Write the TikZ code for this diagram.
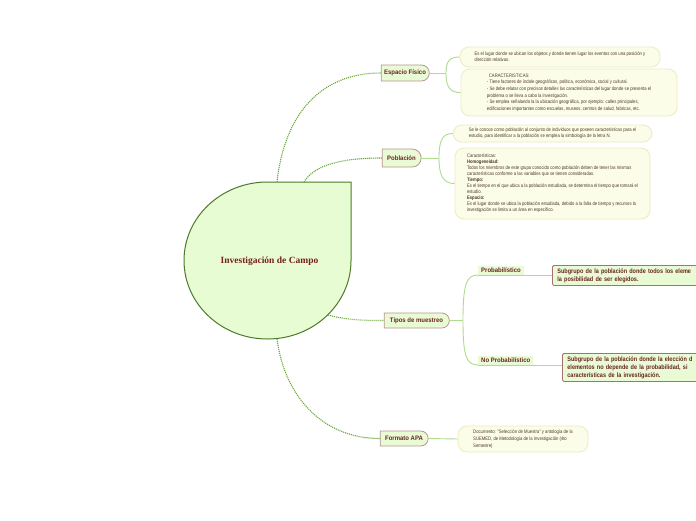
\documentclass[tikz,border=0pt]{standalone}
\usepackage{fontspec}
\setmainfont{Liberation Sans}
\newfontfamily\smallf[FakeStretch=0.84]{Liberation Sans}
\newfontfamily\labf[FakeStretch=0.92]{Liberation Sans}
\newfontfamily\deff[FakeStretch=0.85]{Liberation Sans}
\newfontfamily\titlef{Liberation Serif}
\usetikzlibrary{shapes.misc}
\definecolor{nodefill}{HTML}{E9FBD5}
\definecolor{centerfill}{HTML}{E8FCD3}
\definecolor{nodeborder}{HTML}{B89490}
\definecolor{labeltext}{HTML}{6B2424}
\definecolor{titletext}{HTML}{762020}
\definecolor{dotgreen}{HTML}{6AA83A}
\definecolor{brgreen}{HTML}{AEDB8E}
\definecolor{boxfill}{HTML}{FBFDE8}
\definecolor{boxborder}{HTML}{ECEBC3}
\definecolor{boxtext}{HTML}{4D3A28}
\definecolor{centerborder}{HTML}{4C7A2A}
\definecolor{subborder}{HTML}{A87070}
\begin{document}
\begin{tikzpicture}[x=1pt,y=-1pt,
  mainnode/.style={rounded rectangle, rounded rectangle west arc=none, draw=nodeborder, fill=nodefill, line width=0.8pt, text=labeltext, font=\labf\bfseries\fontsize{6.5}{7.5}\selectfont, inner xsep=4pt, inner ysep=2pt},
  infobox/.style={draw=boxborder, fill=boxfill, rounded corners=9pt, line width=0.8pt, text=boxtext, align=left, font=\smallf\fontsize{5}{6.3}\selectfont, inner sep=0pt},
  tagnode/.style={fill=nodefill, text=labeltext, font=\labf\bfseries\fontsize{6.5}{7.5}\selectfont, inner xsep=3pt, inner ysep=2pt, anchor=south west},
  defbox/.style={draw=subborder, fill=nodefill, rounded corners=1.5pt, line width=0.8pt, text=labeltext, align=left, font=\deff\bfseries\fontsize{6.5}{8}\selectfont, inner xsep=5pt, inner ysep=3pt, anchor=north west, text width=190pt},
  dotlink/.style={draw=dotgreen, line width=1.1pt, dash pattern=on 1.1pt off 0.9pt},
  branch/.style={draw=brgreen, line width=0.9pt}]
\useasboundingbox[fill=white] (0,0) rectangle (696,520);
\clip (0,0) rectangle (696,520);

% central shape
\path[draw=centerborder, fill=centerfill, line width=1pt] (351,182) -- (351,260.5) arc[start angle=0, end angle=-270, x radius=83.5pt, y radius=78.5pt] -- cycle;
\node[font=\titlef\bfseries\fontsize{9.5}{11}\selectfont, text=titletext] (center) at (269.5,261) {Investigación de Campo};
\coordinate (cE) at (277,182);
\coordinate (cP) at (304,182);
\coordinate (cT) at (328,315);
\coordinate (cF) at (277,339);

% main nodes
\node[mainnode, minimum width=56pt, minimum height=16pt] (esp) at (405,73) {Espacio Físico};
\node[mainnode, minimum width=47pt, minimum height=18pt] (pob) at (401.5,158) {Población};
\node[mainnode, minimum width=73pt, minimum height=15pt] (tip) at (416.5,320.5) {Tipos de muestreo};
\node[mainnode, minimum width=56pt, minimum height=15pt] (fmt) at (404,438.5) {Formato APA};

% dotted connectors
\draw[dotlink] (cE) .. controls +(8,-72) and +(-57,0) .. (esp.west);
\draw[dotlink] (cP) .. controls +(10,-17) and +(-40,0) .. (pob.west);
\draw[dotlink] (cT) .. controls +(18,5) and +(-20,0) .. (tip.west);
\draw[dotlink] (cF) .. controls +(8,60) and +(-55,0) .. (fmt.west);

% Espacio Fisico details
\node[infobox, minimum width=200pt, minimum height=20pt] (e1) at (560,57) {Es el lugar donde se ubican los objetos y donde tienen lugar los eventos con una posición y\\dirección relativas.};
\node[infobox, minimum width=216pt, minimum height=47pt, font=\smallf\fontsize{5}{6.6}\selectfont] (e2) at (569,92.5) {\hspace{2pt}CARACTERISTICAS:\\- Tiene factores de índole geográficos, política, económica, social y cultural.\\- Se debe relatar con precisos detalles las características del lugar donde se presenta el\\problema o se lleva a cabo la investigación.\\- Se emplea señalando la la ubicación geográfica, por ejemplo: calles principales,\\edificaciones importantes como escuelas, museos, centros de salud, fabricas, etc.};
\coordinate (ej) at (446,73);
\draw[branch] (esp.east) -- (ej);
\draw[branch] (ej) .. controls +(0,-12) and +(-10,0) .. (e1.west);
\draw[branch] (ej) .. controls +(0,15) and +(-10,0) .. (e2.west);

% Poblacion details
\node[infobox, minimum width=199pt, minimum height=17pt] (p1) at (552.5,133.5) {Se le conoce como población al conjunto de individuos que poseen características para el\\estudio, para identificar a la población se emplea la simbología de la letra N.};
\node[infobox, minimum width=195pt, minimum height=71pt, font=\smallf\fontsize{5}{6.0}\selectfont] (p2) at (552.5,183.5) {Características:\\\textbf{Homogeneidad:}\\Todos los miembros de este grupo conocido como población deben de tener las mismas\\características conforme a las variables que se tienen consideradas.\\\textbf{Tiempo:}\\Es el tiempo en el que ubica a la población estudiada, se determina el tiempo que tomará el\\estudio.\\\textbf{Espacio:}\\Es el lugar donde se ubica la población estudiada, debido a la falta de tiempo y recursos la\\investigación se limita a un área en específico.};
\coordinate (pj) at (439,158);
\draw[branch] (pob.east) -- (pj);
\draw[branch] (pj) .. controls +(0,-18) and +(-10,0) .. (p1.west);
\draw[branch] (pj) .. controls +(0,20) and +(-10,0) .. (p2.west);

% Tipos de muestreo
\node[tagnode] (prob) at (478,275) {Probabilístico};
\node[tagnode] (nprob) at (478,365) {No Probabilístico};
\node[defbox, minimum height=20pt] (pbox) at (552,265) {Subgrupo de la población donde todos los eleme\\la posibilidad de ser elegidos.};
\node[defbox, minimum height=27pt] (nbox) at (562,353) {Subgrupo de la población donde la elección d\\elementos no depende de la probabilidad, si\\características de la investigación.};
\coordinate (tj) at (463,320.5);
\draw[branch] (tip.east) -- (tj);
\draw[branch] (tj) .. controls +(0,-35) and +(-12,0) .. (prob.south west);
\draw[branch] (tj) .. controls +(0,35) and +(-12,0) .. (nprob.south west);
\draw[branch] (prob.south west) -- (prob.south west -| pbox.west);
\draw[branch] (nprob.south west) -- (nprob.south west -| nbox.west);

% Formato APA
\node[infobox, minimum width=130pt, minimum height=26pt, font=\smallf\fontsize{5}{7}\selectfont] (f1) at (523,439) {Documento: "Selección de Muestra" y antología de la\\SUEMED, de Metodología de la Investigación (4to\\Semestre)};
\draw[branch] (fmt.east) -- (f1.west);
\end{tikzpicture}
\end{document}
